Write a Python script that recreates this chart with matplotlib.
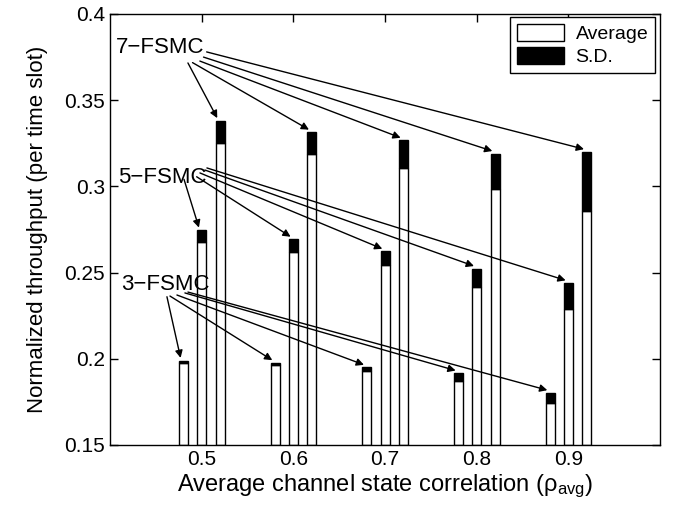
import matplotlib
matplotlib.use('Agg')
import matplotlib.pyplot as plt
from matplotlib.patches import Patch

plt.rcParams['font.family'] = ['Liberation Sans', 'DejaVu Sans']
plt.rcParams['mathtext.fontset'] = 'custom'
plt.rcParams['mathtext.rm'] = 'Liberation Sans'
plt.rcParams['mathtext.it'] = 'Liberation Sans:italic'

# data
rho = [0.5, 0.6, 0.7, 0.8, 0.9]
avg_3 = [0.1975, 0.1965, 0.1930, 0.1870, 0.1745]
sd_3 = [0.0015, 0.0012, 0.0020, 0.0047, 0.0058]
avg_5 = [0.2676, 0.2620, 0.2546, 0.2415, 0.2290]
sd_5 = [0.0070, 0.0073, 0.0077, 0.0108, 0.0150]
avg_7 = [0.3250, 0.3188, 0.3105, 0.2985, 0.2857]
sd_7 = [0.0131, 0.0126, 0.0162, 0.0205, 0.0344]

groups = [
    ('3\u2212FSMC', -0.02, avg_3, sd_3, (0.460, 0.2430),
     [(0.4621, 0.2360), (0.4654, 0.2364), (0.4730, 0.2370), (0.4817, 0.2382), (0.4850, 0.2387)]),
    ('5\u2212FSMC', 0.0, avg_5, sd_5, (0.4567, 0.3050),
     [(0.4807, 0.3041), (0.4945, 0.3056), (0.4981, 0.3078), (0.5035, 0.3095), (0.5057, 0.3107)]),
    ('7\u2212FSMC', 0.02, avg_7, sd_7, (0.4545, 0.3805),
     [(0.4850, 0.3716), (0.4900, 0.3718), (0.4980, 0.3727), (0.5020, 0.3750), (0.5054, 0.3780)]),
]

fig = plt.figure(figsize=(6.77, 5.07), dpi=100)
ax = fig.add_axes([0.1625, 0.1223, 0.8125, 0.8501])

bottom = 0.15
w = 0.0098
for name, off, avg, sd, lab, starts in groups:
    xs = [r + off for r in rho]
    ax.bar(xs, [a - bottom for a in avg], width=w, bottom=bottom,
           color='white', edgecolor='black', linewidth=1.0, zorder=2)
    ax.bar(xs, sd, width=w, bottom=avg,
           color='black', edgecolor='black', linewidth=1.0, zorder=2)
    ax.text(lab[0], lab[1], name, fontsize=16, ha='center', va='center', zorder=4)
    for x, a, s, st in zip(xs, avg, sd, starts):
        ax.annotate('', xy=(x - 0.003, a + s + 0.0015), xytext=st,
                    arrowprops=dict(arrowstyle='-|>', color='black', lw=1.0,
                                    mutation_scale=11, shrinkA=0, shrinkB=0),
                    zorder=3)

ax.set_xlim(0.4, 1.0)
ax.set_ylim(0.15, 0.4)
ax.set_xticks(rho)
ax.set_xticklabels(['0.5', '0.6', '0.7', '0.8', '0.9'])
ax.set_yticks([0.15, 0.2, 0.25, 0.3, 0.35, 0.4])
ax.set_yticklabels(['0.15', '0.2', '0.25', '0.3', '0.35', '0.4'])
ax.tick_params(direction='in', top=True, right=True, labelsize=15, length=6, width=1.0)
for sp in ax.spines.values():
    sp.set_linewidth(1.0)

ax.set_xlabel('Average channel state correlation (\u03c1$_{\\mathrm{avg}}$)', fontsize=17, labelpad=3)
ax.set_ylabel('Normalized throughput (per time slot)', fontsize=16, labelpad=12)

handles = [Patch(facecolor='white', edgecolor='black', linewidth=1.0, label='Average'),
           Patch(facecolor='black', edgecolor='black', linewidth=1.0, label='S.D.')]
leg = ax.legend(handles=handles, loc='upper right', fontsize=14, fancybox=False,
                edgecolor='black', framealpha=1, borderpad=0.35, labelspacing=0.2,
                handlelength=2.4, handleheight=1.0, handletextpad=0.6,
                borderaxespad=0, bbox_to_anchor=(0.991, 0.993))
leg.get_frame().set_linewidth(1.0)

fig.savefig('out.png', dpi=100)
